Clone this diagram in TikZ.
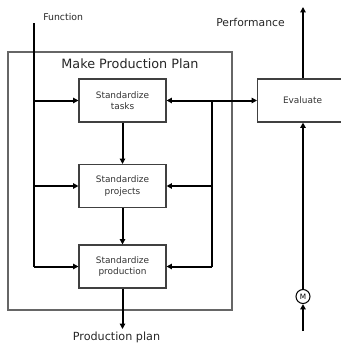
\documentclass[tikz,border=0pt]{standalone}
\usepackage{fontspec}
\setmainfont{DejaVu Sans}
\usetikzlibrary{arrows.meta}
\begin{document}
\begin{tikzpicture}[x=0.75pt,y=-0.75pt,
  box/.style={draw=black!75, line width=0.8pt, minimum width=87*0.75pt, minimum height=43*0.75pt, inner sep=0pt, align=center, font=\fontsize{6.7}{8.5}\selectfont, text=black!80},
  tip/.tip={Triangle[length=4pt,width=4pt]},
  conn/.style={line width=1.5pt, -tip},
  line/.style={line width=1.5pt},
  lbl/.style={inner sep=0pt, text=black!85}]
\useasboundingbox (0,0) rectangle (341,343);
% outer frame
\node[draw=black!60, line width=0.8pt, minimum width=224*0.75pt, minimum height=258*0.75pt, inner sep=0pt] (frame) at (120,181) {};
\node[lbl, font=\fontsize{9.6}{11}\selectfont] (title) at (130,64) {Make Production Plan};
% boxes
\node[box] (tasks) at (122.5,100.5) {Standardize\\tasks};
\node[box] (proj) at (122.5,186) {Standardize\\projects};
\node[box] (prod) at (122.5,266.5) {Standardize\\production};
\node[draw=black!75, line width=0.8pt, minimum width=90*0.75pt, minimum height=43*0.75pt, inner sep=0pt, anchor=west, font=\fontsize{6.7}{8.5}\selectfont, text=black!80] (eval) at (257,100.5) {Evaluate};
% function line
\coordinate (ftop) at (34,23);
\coordinate (fbot) at (34,266.5);
\draw[line] (ftop) -- (fbot);
\node[lbl, font=\fontsize{7}{8}\selectfont, anchor=west] (func) at (43,17) {Function};
\draw[conn] (34,100.5) -- (tasks.west);
\draw[conn] (34,186) -- (proj.west);
\draw[conn] (fbot) -- (prod.west);
% vertical between boxes
\draw[conn] (tasks.south) -- (proj.north);
\draw[conn] (proj.south) -- (prod.north);
% right feedback line
\coordinate (rtop) at (212,100.5);
\coordinate (rbot) at (212,266.5);
\draw[line] (rtop) -- (rbot);
\draw[conn] (212,186) -- (proj.east);
\draw[conn] (rbot) -- (prod.east);
\draw[line, tip-tip] (tasks.east) -- (eval.west);
% performance
\coordinate (ptop) at (303,7);
\draw[conn] (eval.north -| 303,0) -- (ptop);
\node[lbl, font=\fontsize{8.1}{9}\selectfont, anchor=west] (perf) at (216,22) {Performance};
% M circle
\node[draw=black, line width=0.8pt, circle, minimum size=14*0.75pt, inner sep=0pt, font=\fontsize{5.5}{6}\selectfont] (m) at (303,296.5) {M};
\coordinate (mbot) at (303,331);
\draw[conn] (mbot) -- (m.south);
\draw[conn] (m.north) -- (m.north |- eval.south);
% production plan
\coordinate (pp) at (122.5,329);
\draw[conn] (prod.south) -- (pp);
\node[lbl, font=\fontsize{8.4}{9}\selectfont] (pplbl) at (116.5,337) {Production plan};
\end{tikzpicture}
\end{document}
